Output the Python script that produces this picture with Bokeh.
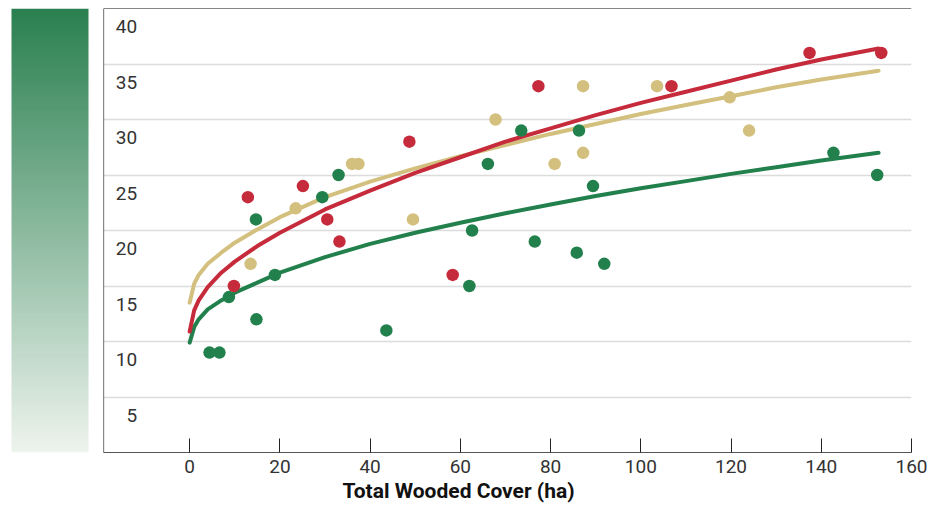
import numpy as np
from bokeh.plotting import figure
from bokeh.layouts import row
from bokeh.models import Range1d, FixedTicker, Span, Title
from bokeh.core.properties import value
from bokeh.embed import file_html
from bokeh.resources import INLINE

# ---------------- data ----------------
green_x = [4.4, 6.6, 8.7, 14.8, 18.9, 14.7, 29.4, 33.0, 43.6, 62.0, 62.6, 66.1,
           73.5, 76.5, 86.3, 85.8, 89.4, 91.9, 142.7, 152.4]
green_y = [9.0, 9.0, 14.0, 12.0, 16.0, 21.0, 23.0, 25.0, 11.0, 15.0, 20.0, 26.0,
           29.0, 19.0, 29.0, 18.0, 24.0, 17.0, 27.0, 25.0]

red_x = [12.9, 25.1, 9.8, 30.5, 33.2, 48.7, 58.3, 77.3, 106.8, 137.4, 153.3]
red_y = [23.0, 24.0, 15.0, 21.0, 19.0, 28.0, 16.0, 33.0, 33.0, 36.0, 36.0]

tan_x = [13.5, 23.5, 36.0, 37.4, 49.5, 67.8, 80.9, 87.2, 87.2, 103.6, 119.7, 124.0]
tan_y = [17.0, 22.0, 26.0, 26.0, 21.0, 30.0, 26.0, 33.0, 27.0, 33.0, 32.0, 29.0]

trend_x = [0, 1, 2, 4, 7, 10, 15, 20, 30, 40, 50, 60, 70, 80, 90, 100, 110, 120,
           130, 140, 152.7]
green_trend = [9.9, 11.3, 12.0, 12.9, 13.7, 14.4, 15.3, 16.2, 17.6, 18.8, 19.8,
               20.7, 21.55, 22.35, 23.1, 23.8, 24.45, 25.1, 25.7, 26.3, 27.0]
red_trend = [10.9, 12.8, 13.7, 14.9, 16.2, 17.2, 18.6, 19.8, 21.9, 23.6, 25.2,
             26.6, 28.0, 29.2, 30.4, 31.5, 32.5, 33.5, 34.5, 35.4, 36.4]
tan_trend = [13.5, 15.2, 16.0, 17.0, 18.0, 18.9, 20.1, 21.2, 23.0, 24.4, 25.6,
             26.7, 27.7, 28.7, 29.6, 30.5, 31.3, 32.1, 32.9, 33.6, 34.4]

x_ticks = [0, 20, 40, 60, 80, 100, 120, 140, 160]
y_ticks = [5, 10, 15, 20, 25, 30, 35, 40]
x_title = "Total Wooded Cover (ha)"

# ---------------- style ----------------
GREEN = "#22804c"
RED = "#c62b3c"
TAN = "#d4c07e"
FONT = "Roboto"
H = 508
W_GRAD = 103
W_MAIN = 828
TOP = 8
BOTTOM = 56

# ---------------- gradient bar ----------------
g = figure(width=W_GRAD, height=H, x_range=Range1d(0, W_GRAD), y_range=Range1d(0, 40),
           toolbar_location=None, output_backend="svg",
           min_border_left=0, min_border_right=0, min_border_top=TOP,
           min_border_bottom=BOTTOM, x_axis_location=None, y_axis_location=None)
g.grid.visible = False
g.outline_line_color = None
n = 256
top_c = np.array([0x2a, 0x80, 0x50], dtype=float)
bot_c = np.array([0xee, 0xf4, 0xee], dtype=float)
img = np.empty((n, 1), dtype=np.uint32)
view = img.view(dtype=np.uint8).reshape((n, 1, 4))
for i in range(n):
    f = i / (n - 1)  # 0 bottom -> 1 top
    c = bot_c + (top_c - bot_c) * f
    view[i, 0, 0] = int(c[0])
    view[i, 0, 1] = int(c[1])
    view[i, 0, 2] = int(c[2])
    view[i, 0, 3] = 255
g.image_rgba(image=[img], x=11, y=0, dw=77, dh=40)

# ---------------- main plot ----------------
p = figure(width=W_MAIN, height=H, x_range=Range1d(-19.1, 160), y_range=Range1d(0, 40),
           toolbar_location=None, output_backend="svg",
           min_border_left=0, min_border_right=20, min_border_top=TOP,
           min_border_bottom=BOTTOM, y_axis_location=None)
p.outline_line_color = None
p.xgrid.visible = False
p.ygrid.ticker = FixedTicker(ticks=y_ticks[:-1])
p.ygrid.grid_line_color = "#dcdcdc"
p.ygrid.grid_line_width = 1.5

p.xaxis.ticker = FixedTicker(ticks=x_ticks)
p.xaxis.major_tick_in = 14
p.xaxis.major_tick_out = 0
p.xaxis.minor_tick_line_color = None
p.xaxis.axis_line_color = "#555555"
p.xaxis.major_tick_line_color = "#222222"
p.xaxis.major_label_text_font = FONT
p.xaxis.major_label_text_font_size = "19px"
p.xaxis.major_label_text_color = "#333333"
p.xaxis.major_label_standoff = 7

p.add_layout(Title(text=x_title, align="left", offset=239, standoff=2,
                   text_font=FONT, text_font_style="bold", text_font_size="21px",
                   text_color="#111111"), "below")

p.add_layout(Span(location=40, dimension="width", line_color="#111111", line_width=1.2))
p.add_layout(Span(location=-19.1, dimension="height", line_color="#111111", line_width=1.2))

for ys, col in [(green_trend, GREEN), (tan_trend, TAN), (red_trend, RED)]:
    p.line(trend_x, ys, line_color=col, line_width=4, line_cap="round", line_join="round")

for xs, ys, col in [(green_x, green_y, GREEN), (tan_x, tan_y, TAN), (red_x, red_y, RED)]:
    p.scatter(xs, ys, size=12.5, fill_color=col, line_color=None)

p.text(x=[-11.63] * len(y_ticks), y=y_ticks, text=[str(v) for v in y_ticks],
       text_align="right", text_baseline="middle", y_offset=18,
       text_font=value(FONT), text_font_size="19px", text_color="#333333")

layout = row(g, p, spacing=0)
open("out.html", "w").write(file_html(layout, INLINE))
